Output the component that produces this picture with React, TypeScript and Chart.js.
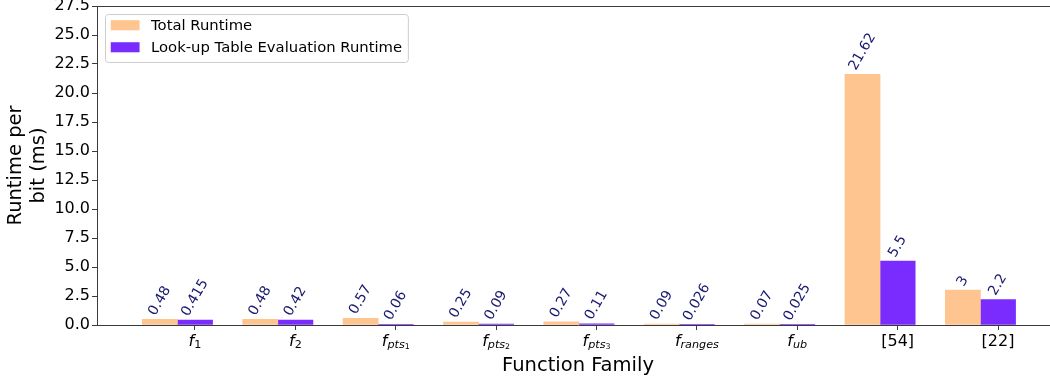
import React, { useEffect, useRef } from 'react';
import { Chart, registerables } from 'chart.js';

Chart.register(...registerables);

// ---------- data ----------
const categories = ['$f_{1}$', '$f_{2}$', '$f_{pts_{1}}$', '$f_{pts_{2}}$', '$f_{pts_{3}}$', '$f_{ranges}$', '$f_{ub}$', '[54]', '[22]'];
const totalRuntime = [0.48, 0.48, 0.57, 0.25, 0.27, 0.09, 0.07, 21.62, 3];
const lookupRuntime = [0.415, 0.42, 0.06, 0.09, 0.11, 0.026, 0.025, 5.5, 2.2];
const seriesNames = ['Total Runtime', 'Look-up Table Evaluation Runtime'];
const seriesColors = ['#ffc591', '#7a2cff'];
const yTickValues = [0, 2.5, 5, 7.5, 10, 12.5, 15, 17.5, 20, 22.5, 25, 27.5];
const xAxisTitle = 'Function Family';
const yAxisTitle = ['Runtime per', 'bit (ms)'];

// ---------- style ----------
const FAMILY = '"DejaVu Sans", sans-serif';
const BAR_W = 0.35;
const SPINE = '#3a3a3a';
const LABEL_COLOR = '#191970';

type Seg = { text: string; level: number; italic: boolean };

function parseLabel(src: string): Seg[] {
  const math = src.length > 1 && src.startsWith('$') && src.endsWith('$');
  const body = math ? src.slice(1, -1) : src;
  const out: Seg[] = [];
  const walk = (s: string, level: number) => {
    let i = 0;
    while (i < s.length) {
      const c = s[i];
      if (math && c === '_') {
        i++;
        if (s[i] === '{') {
          let depth = 1;
          let j = i + 1;
          while (j < s.length && depth > 0) {
            if (s[j] === '{') depth++;
            else if (s[j] === '}') depth--;
            j++;
          }
          walk(s.slice(i + 1, j - 1), level + 1);
          i = j;
        } else {
          walk(s[i] ?? '', level + 1);
          i++;
        }
      } else {
        out.push({ text: c, level, italic: math && /[A-Za-z]/.test(c) });
        i++;
      }
    }
  };
  walk(body, 0);
  const merged: Seg[] = [];
  for (const s of out) {
    const last = merged[merged.length - 1];
    if (last && last.level === s.level && last.italic === s.italic) last.text += s.text;
    else merged.push({ ...s });
  }
  return merged;
}

function drawLabel(ctx: CanvasRenderingContext2D, src: string, cx: number, baseline: number, size: number) {
  const segs = parseLabel(src);
  const fontOf = (s: Seg) => `${s.italic ? 'italic ' : ''}${size * Math.pow(0.7, s.level)}px ${FAMILY}`;
  let total = 0;
  const widths = segs.map((s) => {
    ctx.font = fontOf(s);
    const w = ctx.measureText(s.text).width;
    total += w;
    return w;
  });
  let x = cx - total / 2;
  ctx.textAlign = 'left';
  ctx.textBaseline = 'alphabetic';
  ctx.fillStyle = '#000';
  segs.forEach((s, i) => {
    ctx.font = fontOf(s);
    ctx.fillText(s.text, x, baseline + s.level * 1.5);
    x += widths[i];
  });
}

const decorPlugin = {
  id: 'decor',
  afterDatasetsDraw(chart: any) {
    const ctx: CanvasRenderingContext2D = chart.ctx;
    const fs = 14;
    const ang = Math.PI / 3;
    ctx.save();
    ctx.font = `${fs}px ${FAMILY}`;
    ctx.fillStyle = LABEL_COLOR;
    ctx.textAlign = 'center';
    ctx.textBaseline = 'middle';
    chart.data.datasets.forEach((ds: any, di: number) => {
      const meta = chart.getDatasetMeta(di);
      meta.data.forEach((el: any, i: number) => {
        const txt = String(ds.data[i].y);
        const w = ctx.measureText(txt).width;
        const h = fs * 1.17;
        const bh = w * Math.sin(ang) + h * Math.cos(ang);
        const cx = el.x;
        const cy = el.y - 1 - bh / 2;
        ctx.save();
        ctx.translate(cx, cy);
        ctx.rotate(-ang);
        ctx.fillText(txt, 0, 0);
        ctx.restore();
      });
    });
    ctx.restore();
  },
  afterDraw(chart: any) {
    const ctx: CanvasRenderingContext2D = chart.ctx;
    const a = chart.chartArea;
    ctx.save();
    // top & right spines
    ctx.strokeStyle = SPINE;
    ctx.lineWidth = 1;
    ctx.beginPath();
    ctx.moveTo(a.left, Math.round(a.top) + 0.5);
    ctx.lineTo(a.right, Math.round(a.top) + 0.5);
    ctx.lineTo(a.right, a.bottom);
    ctx.stroke();

    // x tick labels (with subscripts)
    const xs = chart.scales.x;
    categories.forEach((lab, i) => {
      drawLabel(ctx, lab, xs.getPixelForValue(i), a.bottom + 21, 16);
    });

    // legend
    const fs = 14.8;
    ctx.font = `${fs}px ${FAMILY}`;
    const textW = Math.max(...seriesNames.map((n) => ctx.measureText(n).width));
    const lfs = 14.4;
    const pad = 0.4 * lfs;
    const handleLen = 2 * lfs;
    const handleH = 0.7 * lfs;
    const gap = 0.8 * lfs;
    const rowStep = 1.53 * lfs;
    const x0 = a.left + 8;
    const y0 = a.top + 8;
    const bw = pad + handleLen + gap + textW + pad;
    const bh = 3.33 * lfs;
    ctx.beginPath();
    if ((ctx as any).roundRect) (ctx as any).roundRect(x0 + 0.5, y0 + 0.5, bw, bh, 3);
    else ctx.rect(x0 + 0.5, y0 + 0.5, bw, bh);
    ctx.fillStyle = 'rgba(255,255,255,0.8)';
    ctx.fill();
    ctx.strokeStyle = '#cccccc';
    ctx.stroke();
    ctx.textAlign = 'left';
    ctx.textBaseline = 'middle';
    seriesNames.forEach((n, k) => {
      const cy = y0 + pad + 0.38 * lfs + k * rowStep;
      ctx.fillStyle = seriesColors[k];
      ctx.fillRect(x0 + pad, cy - handleH / 2, handleLen, handleH);
      ctx.fillStyle = '#000';
      ctx.fillText(n, x0 + pad + handleLen + gap, cy + 0.5);
    });
    ctx.restore();
  },
};

export default function App() {
  const ref = useRef<HTMLCanvasElement | null>(null);

  useEffect(() => {
    if (!ref.current) return;
    const axisBorder = { display: true, color: SPINE, width: 1 };
    const chart = new Chart(ref.current, {
      type: 'bar',
      data: {
        datasets: [
          {
            label: seriesNames[0],
            data: totalRuntime.map((y, i) => ({ x: i - BAR_W, y })),
            backgroundColor: seriesColors[0],
          },
          {
            label: seriesNames[1],
            data: lookupRuntime.map((y, i) => ({ x: i, y })),
            backgroundColor: seriesColors[1],
          },
        ],
      } as any,
      options: {
        animation: false,
        responsive: false,
        maintainAspectRatio: false,
        layout: { padding: { top: 6, left: 0, right: 1, bottom: 0 } },
        plugins: { legend: { display: false }, tooltip: { enabled: false }, title: { display: false } },
        datasets: { bar: { grouped: false, categoryPercentage: 1, barPercentage: 1, borderWidth: 0 } } as any,
        scales: {
          x: {
            type: 'linear',
            offset: false,
            min: -0.9763,
            max: 8.6077,
            afterBuildTicks: (s: any) => {
              s.ticks = categories.map((_, i) => ({ value: i }));
            },
            afterFit: (s: any) => {
              s.height = 54;
              s.paddingLeft = 0;
              s.paddingRight = 0;
            },
            ticks: { display: false },
            grid: { display: true, offset: false, drawOnChartArea: false, drawTicks: true, tickLength: 5, color: SPINE },
            border: axisBorder,
            title: {
              display: true,
              text: xAxisTitle,
              font: { family: FAMILY, size: 19.5 },
              color: '#000',
              padding: { top: 0, bottom: 1 },
            },
          },
          y: {
            type: 'linear',
            min: 0,
            max: 27.5,
            afterBuildTicks: (s: any) => {
              s.ticks = yTickValues.map((v) => ({ value: v }));
            },
            afterFit: (s: any) => {
              s.width = 97;
              s.paddingTop = 0;
              s.paddingBottom = 0;
            },
            ticks: {
              callback: (v: any) => Number(v).toFixed(1),
              font: { family: FAMILY, size: 16 },
              color: '#000',
              padding: 2,
            },
            grid: { display: true, drawOnChartArea: false, drawTicks: true, tickLength: 5, color: SPINE },
            border: axisBorder,
            title: {
              display: true,
              text: yAxisTitle,
              font: { family: FAMILY, size: 19.5 },
              color: '#000',
              padding: { top: 4, bottom: 0 },
            },
          },
        },
      } as any,
      plugins: [decorPlugin as any],
    });
    return () => chart.destroy();
  }, []);

  return (
    <div style={{ position: 'absolute', left: 0, top: 0, width: 1050, height: 379, overflow: 'hidden', background: '#fff' }}>
      <canvas ref={ref} width={1060} height={379} style={{ width: 1060, height: 379, display: 'block' }} />
    </div>
  );
}
